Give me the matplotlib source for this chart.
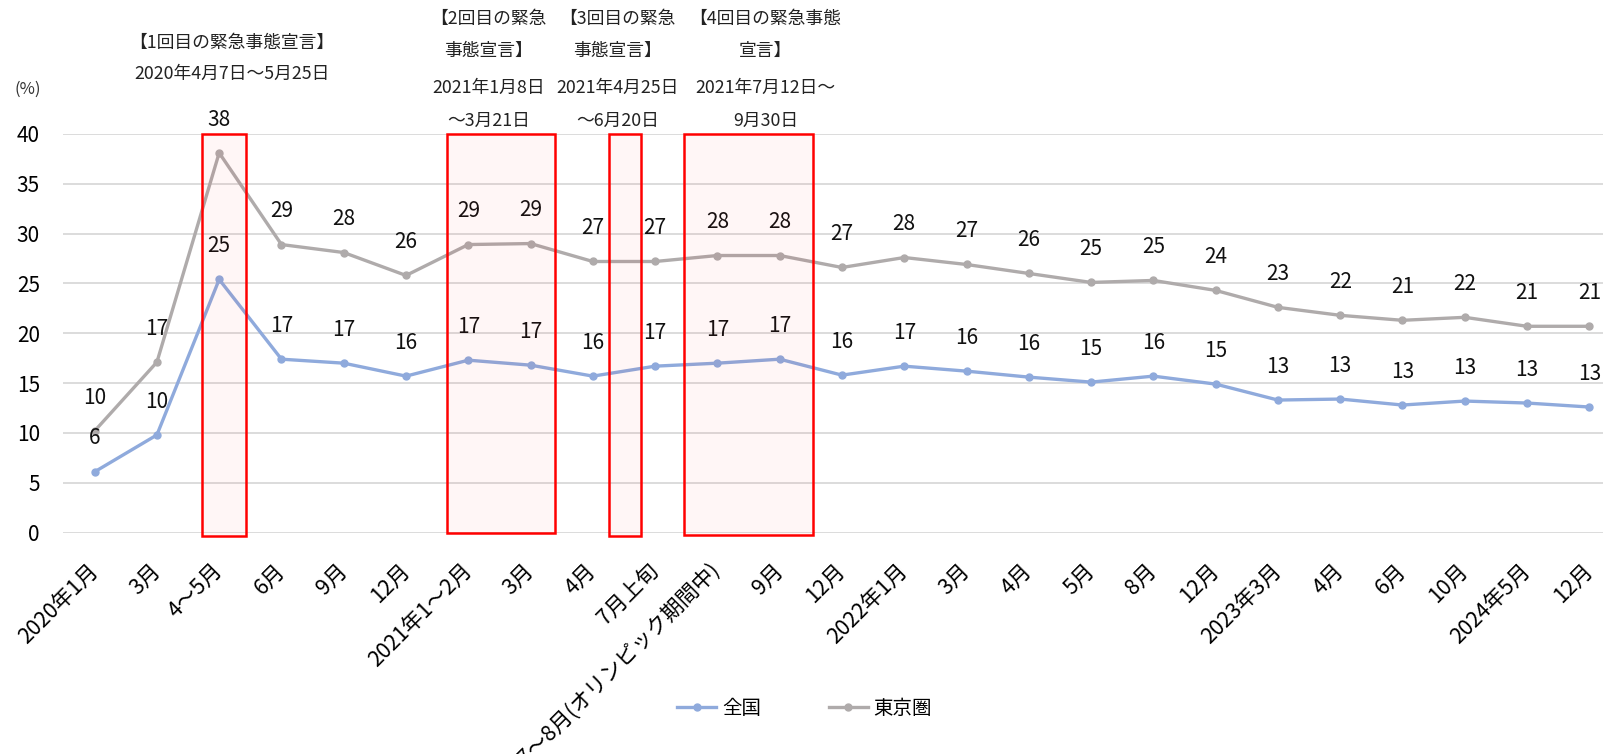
import matplotlib
matplotlib.use("Agg")
import matplotlib.pyplot as plt
from matplotlib.patches import Rectangle

plt.rcParams['font.family'] = ['Noto Sans CJK JP', 'DejaVu Sans']

# survey waves (x axis categories)
periods = ["2020年1月", "3月", "4～5月", "6月", "9月", "12月", "2021年1～2月", "3月",
           "4月", "7月上旬", "7～8月(オリンピック期間中)", "9月", "12月", "2022年1月",
           "3月", "4月", "5月", "8月", "12月", "2023年3月", "4月", "6月", "10月",
           "2024年5月", "12月"]

# telework rate (%)
zenkoku = [6.1, 9.8, 25.4, 17.4, 17.0, 15.7, 17.3, 16.8, 15.7, 16.7, 17.0, 17.4, 15.8,
           16.7, 16.2, 15.6, 15.1, 15.7, 14.9, 13.3, 13.4, 12.8, 13.2, 13.0, 12.6]
tokyoken = [10.2, 17.1, 38.1, 28.9, 28.1, 25.8, 28.9, 29.0, 27.2, 27.2, 27.8, 27.8, 26.6,
            27.6, 26.9, 26.0, 25.1, 25.3, 24.3, 22.6, 21.8, 21.3, 21.6, 20.7, 20.7]

series_names = ["全国", "東京圏"]
series_colors = ["#8FAADC", "#AFABAB"]

# state-of-emergency periods: (left, right, bottom, caption centre, caption lines)
emergencies = [
    (1.73, 2.43, -0.3, 2.20, ["【1回目の緊急事態宣言】", "2020年4月7日～5月25日"]),
    (5.66, 7.40, 0.0, 6.32, ["【2回目の緊急", "事態宣言】", "2021年1月8日", "～3月21日"]),
    (8.26, 8.78, -0.3, 8.40, ["【3回目の緊急", "事態宣言】", "2021年4月25日", "～6月20日"]),
    (9.46, 11.54, -0.2, 10.77, ["【4回目の緊急事態", "宣言】", "2021年7月12日～", "9月30日"]),
]

fig = plt.figure(figsize=(16.03, 7.54), dpi=100)
ax = fig.add_axes([0.0396, 0.2936, 0.9713, 0.5288])

x = list(range(len(periods)))
ax.set_xlim(-0.5, len(periods) - 0.5)
ax.set_ylim(0, 40)
ax.set_yticks(range(0, 45, 5))
ax.grid(axis='y', color='#D9D9D9', linewidth=1.3, zorder=0)
for side in ax.spines:
    ax.spines[side].set_visible(False)
ax.tick_params(axis='y', length=0, labelsize=15, pad=17)
ax.tick_params(axis='x', length=0, labelsize=15.5, pad=25)
ax.set_xticks(x)
ax.set_xticklabels(periods, rotation=45, ha='right', va='center', rotation_mode='anchor')

for vals, name, col in zip([zenkoku, tokyoken], series_names, series_colors):
    ax.plot(x, vals, color=col, linewidth=2.4, marker='o', markersize=5,
            label=name, zorder=3)
    for xi, v in zip(x, vals):
        ax.annotate(f"{v:.0f}", (xi, v), xytext=(0, 24), textcoords='offset points',
                    ha='center', va='center', fontsize=15, color='#111111',
                    annotation_clip=False, zorder=4)

# emergency boxes and their captions
line_y4 = [51.5, 48.3, 44.6, 41.3]
line_y2 = [49.1, 46.0]
for x0, x1, y0, cx, lines in emergencies:
    ax.add_patch(Rectangle((x0, y0), x1 - x0, 40 - y0, facecolor=(1, 0, 0, 0.035),
                           edgecolor='#FF0000', linewidth=1.8, clip_on=False, zorder=5))
    ys = line_y2 if len(lines) == 2 else line_y4
    for txt, yy in zip(lines, ys):
        ax.text(cx, yy, txt, ha='center', va='center', fontsize=12.8, color='#222222',
                clip_on=False)

fig.text(0.009, 0.881, "(%)", fontsize=12, color='#333333', va='center')

fig.legend(loc='center', bbox_to_anchor=(0.502, 0.061), ncol=2, frameon=False,
           fontsize=14, handlelength=2.0, columnspacing=3.5, handletextpad=0.3)

fig.savefig("out.png", dpi=100)
